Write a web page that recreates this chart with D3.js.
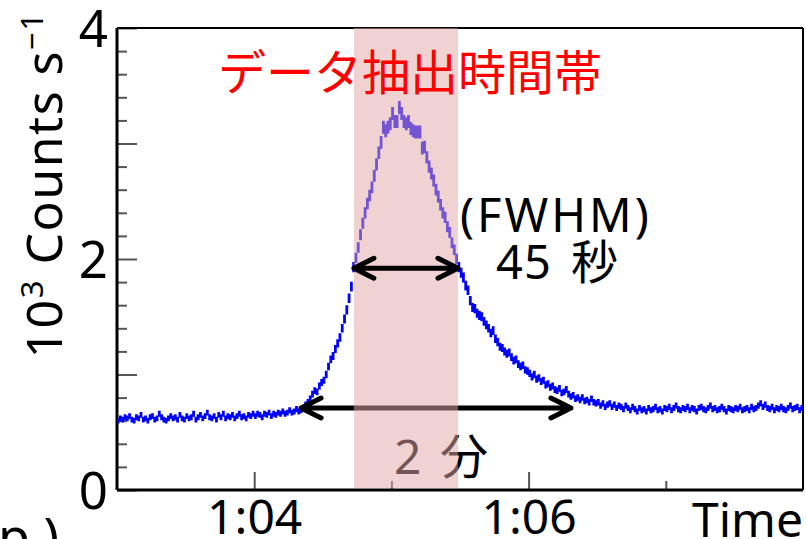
<!DOCTYPE html>
<html>
<head>
<meta charset="utf-8">
<script src="https://cdn.jsdelivr.net/npm/d3@7/dist/d3.min.js"></script>
<style>
  html, body { margin: 0; padding: 0; background: #fff; overflow: hidden; }
  svg { display: block; }
  text { font-family: "Noto Sans", "Noto Sans CJK JP", sans-serif; }
</style>
</head>
<body>
<svg id="chart" width="806" height="539"></svg>
<script>
// ---------- data ----------
// light curve: counts per 1-second bin, in 10^3 counts/s, starting at 1:03:00
const binStart = 3780;   // seconds (1:03:00)
const binWidth = 1;      // seconds
const counts = [
  0.60,0.62,0.61,0.63,0.62,0.64,0.61,0.60,0.63,0.62,
  0.65,0.61,0.62,0.60,0.63,0.64,0.61,0.62,0.66,0.63,
  0.61,0.60,0.62,0.64,0.62,0.63,0.61,0.65,0.62,0.61,
  0.64,0.62,0.63,0.66,0.61,0.63,0.65,0.62,0.64,0.67,
  0.63,0.62,0.64,0.61,0.65,0.63,0.66,0.62,0.64,0.63,
  0.65,0.62,0.64,0.66,0.63,0.64,0.62,0.65,0.64,0.66,
  0.64,0.66,0.65,0.63,0.66,0.65,0.67,0.64,0.66,0.65,
  0.67,0.66,0.68,0.66,0.67,0.69,0.67,0.68,0.70,0.68,
  0.69,0.71,0.74,0.76,0.79,0.83,0.86,0.85,0.90,0.93,
  0.95,1.00,1.07,1.13,1.16,1.22,1.27,1.32,1.40,1.48,
  1.56,1.66,1.76,1.93,2.01,2.10,2.21,2.31,2.40,2.48,
  2.55,2.62,2.72,2.82,2.92,3.01,3.14,3.11,3.14,3.17,
  3.26,3.19,3.19,3.31,3.26,3.19,3.17,3.19,3.13,3.11,
  3.10,3.10,3.10,2.96,2.97,2.88,2.80,2.74,2.68,2.60,
  2.54,2.47,2.40,2.36,2.28,2.23,2.14,2.08,2.00,1.93,
  1.88,1.84,1.77,1.73,1.64,1.58,1.57,1.53,1.51,1.50,
  1.46,1.43,1.40,1.36,1.38,1.31,1.28,1.24,1.23,1.20,
  1.18,1.19,1.15,1.12,1.13,1.09,1.07,1.08,1.04,1.03,
  1.01,0.98,1.00,0.96,0.97,0.94,0.95,0.91,0.92,0.89,
  0.90,0.87,0.86,0.88,0.84,0.85,0.87,0.83,0.81,0.82,
  0.79,0.80,0.78,0.80,0.77,0.78,0.76,0.79,0.76,0.75,
  0.76,0.73,0.75,0.72,0.74,0.75,0.72,0.74,0.71,0.73,
  0.72,0.70,0.73,0.71,0.69,0.72,0.70,0.68,0.71,0.69,
  0.70,0.68,0.71,0.69,0.70,0.72,0.69,0.70,0.68,0.71,
  0.70,0.72,0.69,0.71,0.73,0.70,0.69,0.71,0.70,0.72,
  0.69,0.71,0.70,0.68,0.71,0.72,0.70,0.69,0.71,0.73,
  0.70,0.71,0.69,0.70,0.72,0.70,0.68,0.71,0.70,0.69,
  0.71,0.70,0.72,0.69,0.70,0.71,0.69,0.72,0.70,0.71,
  0.73,0.75,0.72,0.74,0.71,0.70,0.72,0.69,0.71,0.70,
  0.72,0.70,0.69,0.71,0.73,0.70,0.71,0.72,0.69,0.71
];
const xDomain = [3780, 4080];          // 1:03 – 1:08
const yDomain = [0, 4];
const xLabelTicks = [3840, 3960];      // 1:04, 1:06
const xMinorTicks = [3900, 4020];      // 1:05, 1:07
const yLabelTicks = [0, 2, 4];
const yMidTicks = [1, 3];
const yMinorTicks = [0.2,0.4,0.6,0.8,1.2,1.4,1.6,1.8,2.2,2.4,2.6,2.8,3.2,3.4,3.6,3.8];
const bandRange = [3883.6, 3929.1];    // data extraction window (FWHM 45 s)
const fwhmArrow = { t0: 3883.6, t1: 3929.1, v: 1.92 };
const twoMinArrow = { t0: 3860.5, t1: 3978.5, v: 0.71 };
const titleText = "データ抽出時間帯";
const fwhmText1 = "(FWHM)";
const fwhmNum = "45", fwhmUnit = "秒";
const twoMinNum = "2", twoMinUnit = "分";
const xAxisTitle = "Time";

// ---------- layout ----------
const svg = d3.select("#chart");
const L = 117, R = 803, T = 28, B = 490;
const x = d3.scaleLinear().domain(xDomain).range([L, R]);
const y = d3.scaleLinear().domain(yDomain).range([B, T]);
const fmt = s => { const m = Math.round(s / 60); return Math.floor(m / 60) + ":" + String(m % 60).padStart(2, "0"); };

// ---------- axes ----------
function styleAxis(g) {
  g.select(".domain").remove();
  g.selectAll(".tick line").attr("stroke", "#555").attr("stroke-width", 2);
}
svg.append("g").attr("transform", `translate(0,${B})`)
  .call(d3.axisBottom(x).tickValues(xLabelTicks).tickSizeInner(-18).tickSizeOuter(0).tickPadding(9).tickFormat(fmt))
  .call(styleAxis)
  .call(g => g.selectAll("text").attr("font-size", 48).attr("fill", "#000").attr("dy", "0.72em"));
svg.append("g").attr("transform", `translate(0,${B})`)
  .call(d3.axisBottom(x).tickValues(xMinorTicks).tickSizeInner(-9).tickSizeOuter(0).tickFormat(""))
  .call(styleAxis);

svg.append("g").attr("transform", `translate(${L},0)`)
  .call(d3.axisLeft(y).tickValues(yLabelTicks).tickSizeInner(-20).tickSizeOuter(0).tickPadding(9).tickFormat(d3.format("d")))
  .call(styleAxis)
  .call(g => g.selectAll("text").attr("font-size", 51).attr("fill", "#000").attr("dy", "0.36em"));
svg.append("g").attr("transform", `translate(${L},0)`)
  .call(d3.axisLeft(y).tickValues(yMidTicks).tickSizeInner(-20).tickSizeOuter(0).tickFormat(""))
  .call(styleAxis);
svg.append("g").attr("transform", `translate(${L},0)`)
  .call(d3.axisLeft(y).tickValues(yMinorTicks).tickSizeInner(-10).tickSizeOuter(0).tickFormat(""))
  .call(styleAxis);

// frame
svg.append("line").attr("x1", L).attr("x2", L).attr("y1", T).attr("y2", B).attr("stroke", "#000").attr("stroke-width", 3);
svg.append("line").attr("x1", L).attr("x2", R).attr("y1", B).attr("y2", B).attr("stroke", "#000").attr("stroke-width", 3);
svg.append("line").attr("x1", L).attr("x2", R).attr("y1", T).attr("y2", T).attr("stroke", "#000").attr("stroke-width", 2);
svg.append("line").attr("x1", R).attr("x2", R).attr("y1", T).attr("y2", B).attr("stroke", "#000").attr("stroke-width", 2);

// axis titles
svg.append("text").attr("x", R).attr("y", 537).attr("text-anchor", "end")
  .attr("font-size", 48).attr("fill", "#000").text(xAxisTitle);
const yt = svg.append("text").attr("transform", "translate(62,185) rotate(-90)")
  .attr("text-anchor", "middle").attr("font-size", 50).attr("letter-spacing", 1.5).attr("fill", "#000");
yt.append("tspan").text("10");
yt.append("tspan").attr("font-size", 31).attr("dy", -19).text("3");
yt.append("tspan").attr("dy", 19).text(" Counts s");
yt.append("tspan").attr("font-size", 31).attr("dy", -19).text("−1");

// stray label from neighbouring panel
svg.append("text").attr("x", -2).attr("y", 556).attr("font-size", 52).attr("fill", "#000").text("p )");

// ---------- data (histogram with error bars) ----------
svg.append("clipPath").attr("id", "plotclip").append("rect")
  .attr("x", L).attr("y", T).attr("width", R - L).attr("height", B - T);
const path = d3.path();
counts.forEach((v, i) => {
  const t0 = binStart + i * binWidth, t1 = t0 + binWidth, tc = t0 + binWidth / 2;
  const err = Math.sqrt(v * 1000 * binWidth) / 1000 / binWidth;
  path.moveTo(x(t0), y(v)); path.lineTo(x(t1), y(v));
  path.moveTo(x(tc), y(v - err)); path.lineTo(x(tc), y(v + err));
});
svg.append("path").attr("d", path.toString()).attr("clip-path", "url(#plotclip)")
  .attr("fill", "none").attr("stroke", "#0000ff").attr("stroke-width", 2.8);

// ---------- annotations ----------
function arrow(a) {
  const x0 = x(a.t0), x1 = x(a.t1), yy = y(a.v), hl = 20, hw = 10;
  const p = d3.path();
  p.moveTo(x0, yy); p.lineTo(x1, yy);
  p.moveTo(x0 + hl, yy - hw); p.lineTo(x0, yy); p.lineTo(x0 + hl, yy + hw);
  p.moveTo(x1 - hl, yy - hw); p.lineTo(x1, yy); p.lineTo(x1 - hl, yy + hw);
  svg.append("path").attr("d", p.toString()).attr("fill", "none").attr("stroke", "#000")
    .attr("stroke-width", 5).attr("stroke-linecap", "round").attr("stroke-linejoin", "round");
}
arrow(twoMinArrow);

const t2 = svg.append("text").attr("y", 474).attr("font-size", 48).attr("fill", "#000");
t2.append("tspan").attr("x", 394).text(twoMinNum);
t2.append("tspan").attr("x", 440).text(twoMinUnit);
svg.append("text").attr("x", 460).attr("y", 232).attr("font-size", 47).attr("letter-spacing", 3)
  .attr("fill", "#000").text(fwhmText1);
const t45 = svg.append("text").attr("y", 279).attr("font-size", 47).attr("fill", "#000");
t45.append("tspan").attr("x", 496).attr("letter-spacing", 1).text(fwhmNum);
t45.append("tspan").attr("x", 571).text(fwhmUnit);

// shaded extraction window (drawn over the curve)
svg.append("rect").attr("x", x(bandRange[0])).attr("y", T).attr("width", x(bandRange[1]) - x(bandRange[0]))
  .attr("height", B - 2 - T).attr("fill", "rgb(225,167,167)").attr("fill-opacity", 0.51);

arrow(fwhmArrow);

svg.append("text").attr("x", 218).attr("y", 90).attr("font-size", 48).attr("fill", "#ff0000")
  .style("font-family", "'Noto Sans CJK JP', sans-serif").text(titleText);
</script>
</body>
</html>
